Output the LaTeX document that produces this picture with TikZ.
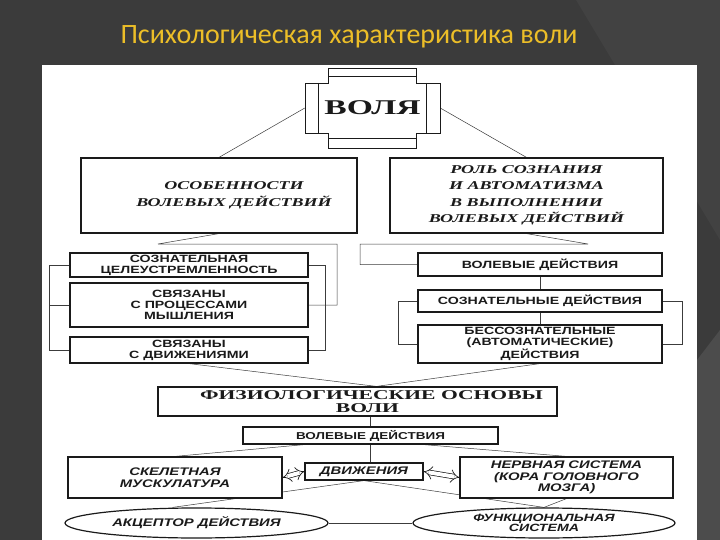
\documentclass[tikz,border=0pt]{standalone}
\usepackage{fontspec}
\setmainfont{Liberation Serif}
\newfontfamily\titlefont{Carlito}
\newfontfamily\serifX[FakeStretch=1.6]{Liberation Serif}
\newfontfamily\serifI[FakeStretch=1.5]{Liberation Serif}
\newfontfamily\sansU[FakeStretch=1.35]{Liberation Sans}
\usetikzlibrary{arrows.meta,shapes.geometric,calc}
\definecolor{bgc}{HTML}{3B3B3B}
\definecolor{bgc2}{HTML}{424242}
\definecolor{bgc3}{HTML}{4C4C4C}
\definecolor{titlec}{RGB}{236,190,40}
\definecolor{ink}{HTML}{1A1A1A}
\pgfdeclarelayer{back}
\pgfdeclarelayer{lines}
\pgfsetlayers{back,lines,main}
\tikzset{
  box/.style={draw=ink, line width=1.2pt, fill=white, inner sep=1pt, align=center, text=ink},
  oval/.style={box, ellipse, inner xsep=0pt, inner ysep=-4pt},
  lnk/.style={draw=ink!85, line width=0.5pt},
  dbl/.style={draw=ink, line width=0.7pt, double=white, double distance=4pt, {Implies}-{Implies}},
  fserI/.style={font=\serifI\bfseries\itshape\fontsize{12}{16.5}\selectfont},
  fsans/.style={font=\sansU\bfseries\fontsize{10.5}{11}\selectfont},
  fsansI/.style={font=\sansU\bfseries\itshape\fontsize{11}{11.5}\selectfont},
}
\begin{document}
\begin{tikzpicture}[x=1pt,y=-1pt]
\useasboundingbox (0,0) rectangle (720,540);
\begin{pgfonlayer}{back}
\fill[bgc] (0,0) rectangle (720,540);
\fill[bgc2] (576,0) -- (720,0) -- (720,240) -- cycle;
\fill[bgc3] (697,360) -- (720,330) -- (720,540) -- (697,540) -- cycle;
\fill[white] (42,65) rectangle (697,540);
\end{pgfonlayer}

\node[font=\titlefont\fontsize{28}{28}\selectfont, text=titlec] (title) at (349,37) {Психологическая характеристика воли};

% ВОЛЯ
\node[minimum width=135pt, minimum height=80pt, inner sep=0pt, text=ink,
      font=\serifX\bfseries\fontsize{21}{21}\selectfont] (volya) at (372.5,108) {ВОЛЯ};
\begin{scope}[shift={(volya.center)}]
\draw[ink, line width=0.9pt] (-44,-40) -- (44,-40) -- (44,-25) -- (67.5,-25) -- (67.5,25) -- (44,25) -- (44,40)
  -- (-44,40) -- (-44,25) -- (-67.5,25) -- (-67.5,-25) -- (-44,-25) -- cycle;
\draw[ink, line width=1.4pt] (-54,-25) -- (-54,25) (54,-25) -- (54,25);
\draw[ink, line width=1pt] (-44,-31) -- (44,-31) (-44,31) -- (44,31);
\end{scope}

\node[box, fserI, minimum width=276pt, minimum height=75pt] (osob) at (219,195.5) {\hspace*{30pt}ОСОБЕННОСТИ\\\hspace*{30pt}ВОЛЕВЫХ ДЕЙСТВИЙ};
\node[box, fserI, minimum width=273pt, minimum height=75pt] (rol) at (526.5,195.5) {РОЛЬ СОЗНАНИЯ\\И АВТОМАТИЗМА\\В ВЫПОЛНЕНИИ\\ВОЛЕВЫХ ДЕЙСТВИЙ};

\node[box, fsans, minimum width=238pt, minimum height=24pt] (A) at (189,265) {СОЗНАТЕЛЬНАЯ\\ЦЕЛЕУСТРЕМЛЕННОСТЬ};
\node[box, fsans, minimum width=238pt, minimum height=44pt] (B) at (189,305) {СВЯЗАНЫ\\С ПРОЦЕССАМИ\\МЫШЛЕНИЯ};
\node[box, fsans, minimum width=238pt, minimum height=26pt] (C) at (189,350) {СВЯЗАНЫ\\С ДВИЖЕНИЯМИ};

\node[box, fsans, minimum width=244pt, minimum height=23pt] (R1) at (540,264.5) {ВОЛЕВЫЕ ДЕЙСТВИЯ};
\node[box, fsans, minimum width=244pt, minimum height=22pt] (R2) at (540,301) {СОЗНАТЕЛЬНЫЕ ДЕЙСТВИЯ};
\node[box, fsans, minimum width=244pt, minimum height=38pt] (R3) at (540,344) {БЕССОЗНАТЕЛЬНЫЕ\\(АВТОМАТИЧЕСКИЕ)\\ДЕЙСТВИЯ};

\node[box, font=\serifX\bfseries\fontsize{13.5}{13}\selectfont, minimum width=399pt, minimum height=29pt, inner sep=0pt] (fiz) at (357.5,401.5) {\hspace*{28pt}ФИЗИОЛОГИЧЕСКИЕ ОСНОВЫ\\\hspace*{20pt}ВОЛИ};
\node[box, font=\sansU\bfseries\fontsize{10}{10}\selectfont, minimum width=255pt, minimum height=17pt, inner sep=0pt] (vd2) at (370.5,435.5) {ВОЛЕВЫЕ ДЕЙСТВИЯ};

\node[box, fsansI, minimum width=118pt, minimum height=17pt, inner sep=0pt] (dv) at (364,471.5) {ДВИЖЕНИЯ};
\node[box, fsansI, minimum width=214pt, minimum height=41pt] (skel) at (175,477.5) {СКЕЛЕТНАЯ\\МУСКУЛАТУРА};
\node[box, fsansI, minimum width=213pt, minimum height=41pt] (nerv) at (566.5,477.5) {НЕРВНАЯ СИСТЕМА\\(КОРА ГОЛОВНОГО\\МОЗГА)};

\node[oval, fsansI, minimum width=263pt, minimum height=30pt] (akc) at (196.5,523) {АКЦЕПТОР ДЕЙСТВИЯ};
\node[oval, font=\sansU\bfseries\itshape\fontsize{10.5}{10.5}\selectfont, minimum width=262pt, minimum height=30pt] (func) at (544,523) {ФУНКЦИОНАЛЬНАЯ\\СИСТЕМА};

\begin{pgfonlayer}{lines}
\draw[lnk] (volya.west) -- (osob.north);
\draw[lnk] (volya.east) -- (rol.north);
\draw[lnk] (osob.south) -- (158,244) -- (337,244) |- (B.east);
\draw[lnk] (rol.south) -- (588,244) -- (360,244) |- (R1.west);
\draw[lnk] (A.west) -- ++(-20,0) coordinate (lb) |- (C.west);
\draw[lnk] (B.west) -- (B.west -| lb);
\draw[lnk] (A.east) -- ++(17,0) |- (C.east);
\draw[lnk] (R2.west) -- ++(-19,0) |- (R3.west);
\draw[lnk] (R2.east) -- ++(20,0) |- (R3.east);
\draw[lnk] (R1) -- (R2) -- (R3);
\coordinate (fz) at ([xshift=19pt]fiz.north);
\draw[lnk] (C.south) -- (fz) -- (R3.south);
\draw[lnk] (fiz.south -| vd2.north) -- (vd2.north);
\draw[lnk] (vd2.south) -- (vd2.south |- dv.north);
\draw[lnk] (vd2.south -| dv.west) -- (skel.north);
\draw[lnk] (vd2.south -| dv.east) -- (nerv.north);
\draw[lnk] (dv.south) -- ([xshift=-24pt]akc.north);
\draw[lnk] (dv.south) -- (func.north);
\draw[lnk] (nerv.south) -- (func.north);
\draw[lnk] (akc.east) -- (func.west);
\end{pgfonlayer}
\draw[dbl] (skel.east) -- (dv.west);
\draw[dbl] (dv.east) -- (nerv.west);
\end{tikzpicture}
\end{document}
